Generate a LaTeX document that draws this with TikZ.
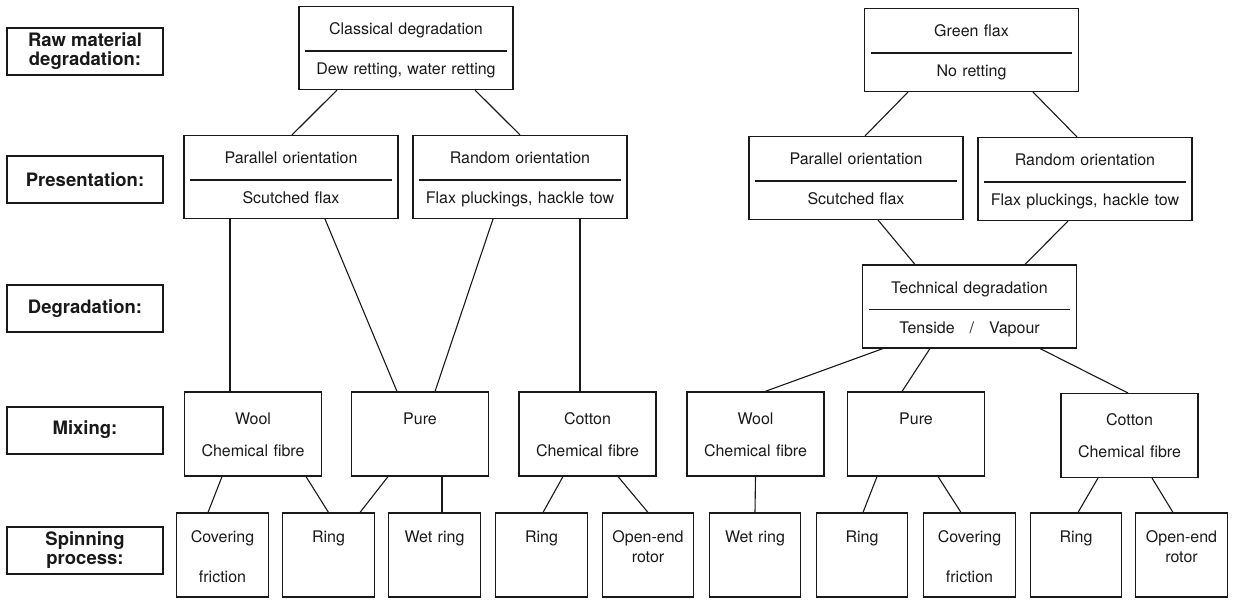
\documentclass[tikz,border=0pt]{standalone}
\usepackage{fontspec}
\setmainfont{TeX Gyre Heros}
\usepackage{tikz}

\begin{document}
\begin{tikzpicture}[x=1pt,y=-1pt,
    every node/.style={text=black!90},
    levelbox/.style={draw=black!90, line width=2pt, minimum width=156pt, minimum height=47pt,
        inner sep=0pt, align=center, font=\bfseries\fontsize{18.5}{19}\selectfont},
    twobox/.style={draw=black!90, line width=1.1pt, inner sep=0pt, text width=214pt, align=center,
        text height=28pt, text depth=55pt, font=\fontsize{16}{40}\selectfont},
    mixbox/.style={draw=black!90, line width=1.1pt, inner sep=0pt, text width=137pt, align=center,
        text height=32pt, text depth=52pt, font=\fontsize{16}{32}\selectfont},
    spinbox/.style={draw=black!90, line width=1.1pt, inner sep=0pt, text width=91.5pt, align=center,
        text height=29pt, text depth=55pt, font=\fontsize{16}{20.5}\selectfont},
    divider/.style={draw=black!90, line width=1.1pt},
    link/.style={draw=black!90, line width=1.1pt}]
            \def\ya{48}
            \def\yb{177}
            \def\yc{306.5}
            \def\yd{434}
            \def\ye{555}
            \useasboundingbox (0,0) rectangle (1235,600);
            %Row labels
            \node[levelbox] (lraw) at (85,51.5) {Raw material\\degradation:};
            \node[levelbox] (lpres) at (85,179.5) {Presentation:};
            \node[levelbox] (ldeg) at (85,308.5) {Degradation:};
            \node[levelbox] (lmix) at (85,430) {Mixing:};
            \node[levelbox] (lspin) at (85,550.5) {Spinning\\process:};
            %Degradation and presentation boxes
            \node[twobox] (cl) at (406,\ya) {Classical degradation\\Dew retting, water retting};
            \node[twobox] (gf) at (971.5,\ya+2) {Green flax\\No retting};
            \node[twobox] (parl) at (291,\yb) {Parallel orientation\\Scutched flax};
            \node[twobox] (randl) at (520,\yb) {Random orientation\\Flax pluckings, hackle tow};
            \node[twobox] (parr) at (856,\yb+1) {Parallel orientation\\Scutched flax};
            \node[twobox] (randr) at (1085,\yb+2) {Random orientation\\Flax pluckings, hackle tow};
            \node[twobox] (tech) at (969.5,\yc) {Technical degradation\\Tenside\hspace{15pt}/\hspace{15pt}Vapour};
            %Dividers
            \draw[divider] ([xshift=7pt,yshift=-45pt]cl.north west) -- ([xshift=-7pt,yshift=-45pt]cl.north east);
            \draw[divider] ([xshift=7pt,yshift=-45pt]gf.north west) -- ([xshift=-7pt,yshift=-45pt]gf.north east);
            \draw[divider] ([xshift=7pt,yshift=-45pt]parl.north west) -- ([xshift=-7pt,yshift=-45pt]parl.north east);
            \draw[divider] ([xshift=7pt,yshift=-45pt]randl.north west) -- ([xshift=-7pt,yshift=-45pt]randl.north east);
            \draw[divider] ([xshift=7pt,yshift=-45pt]parr.north west) -- ([xshift=-7pt,yshift=-45pt]parr.north east);
            \draw[divider] ([xshift=7pt,yshift=-45pt]randr.north west) -- ([xshift=-7pt,yshift=-45pt]randr.north east);
            \draw[divider] ([xshift=7pt,yshift=-45pt]tech.north west) -- ([xshift=-7pt,yshift=-45pt]tech.north east);
            %Mixing boxes
            \node[mixbox] (wooll) at (253,\yd) {Wool\\Chemical fibre};
            \node[mixbox] (purel) at (420,\yd) {Pure};
            \node[mixbox] (cotl) at (587.5,\yd) {Cotton\\Chemical fibre};
            \node[mixbox] (woolr) at (755.5,\yd) {Wool\\Chemical fibre};
            \node[mixbox] (purer) at (916,\yd) {Pure};
            \node[mixbox] (cotr) at (1129.5,\yd+1.5) {Cotton\\Chemical fibre};
            %Spinning boxes
            \node[spinbox] (covl) at (222.5,\ye) {Covering\\[19.5pt]friction};
            \node[spinbox] (ringl) at (328.5,\ye) {Ring};
            \node[spinbox] (wetl) at (434.5,\ye) {Wet ring};
            \node[spinbox] (ringm) at (541.5,\ye) {Ring};
            \node[spinbox] (openl) at (648,\ye) {Open-end\\rotor};
            \node[spinbox] (wetr) at (755,\ye) {Wet ring};
            \node[spinbox] (ringr) at (862,\ye) {Ring};
            \node[spinbox] (covr) at (969.5,\ye) {Covering\\[19.5pt]friction};
            \node[spinbox] (ringrr) at (1076,\ye) {Ring};
            \node[spinbox] (openr) at (1181.5,\ye) {Open-end\\rotor};
            %Connections, top rows
            \draw[link] ([xshift=-69pt]cl.south) -- ([xshift=1pt]parl.north);
            \draw[link] ([xshift=69pt]cl.south) -- (randl.north);
            \draw[link] ([xshift=-63.5pt]gf.south) -- ([xshift=9pt]parr.north);
            \draw[link] ([xshift=61.5pt]gf.south) -- ([xshift=-8pt]randr.north);
            \draw[link] ([xshift=-61pt]parl.south) -- ([xshift=-23pt]wooll.north);
            \draw[link] ([xshift=34pt]parl.south) -- ([xshift=-23pt]purel.north);
            \draw[link] ([xshift=-27pt]randl.south) -- ([xshift=15pt]purel.north);
            \draw[link] ([xshift=60pt]randl.south) -- ([xshift=-7.5pt]cotl.north);
            \draw[link] ([xshift=22pt]parr.south) -- ([xshift=-54.5pt]tech.north);
            \draw[link] ([xshift=-17pt]randr.south) -- ([xshift=55.5pt]tech.north);
            \draw[link] ([xshift=-86.5pt]tech.south) -- ([xshift=9.5pt]woolr.north);
            \draw[link] ([xshift=-39.5pt]tech.south) -- ([xshift=-14pt]purer.north);
            \draw[link] ([xshift=70.5pt]tech.south) -- ([xshift=-1.5pt]cotr.north);
            %Connections, spinning
            \draw[link] ([xshift=-31pt]wooll.south) -- ([xshift=-14.5pt]covl.north);
            \draw[link] ([xshift=53pt]wooll.south) -- (ringl.north);
            \draw[link] ([xshift=-32pt]purel.south) -- ([xshift=31.5pt]ringl.north);
            \draw[link] ([xshift=22pt]purel.south) -- ([xshift=7.5pt]wetl.north);
            \draw[link] ([xshift=-24.5pt]cotl.south) -- ([xshift=1.5pt]ringm.north);
            \draw[link] ([xshift=30.5pt]cotl.south) -- (openl.north);
            \draw[link] (woolr.south) -- (wetr.north);
            \draw[link] ([xshift=-39pt]purer.south) -- ([xshift=1pt]ringr.north);
            \draw[link] ([xshift=22pt]purer.south) -- ([xshift=-8.5pt]covr.north);
            \draw[link] ([xshift=-31.5pt]cotr.south) -- ([xshift=2pt]ringrr.north);
            \draw[link] ([xshift=22.5pt]cotr.south) -- ([xshift=-8.5pt]openr.north);
        \end{tikzpicture}
\end{document}
